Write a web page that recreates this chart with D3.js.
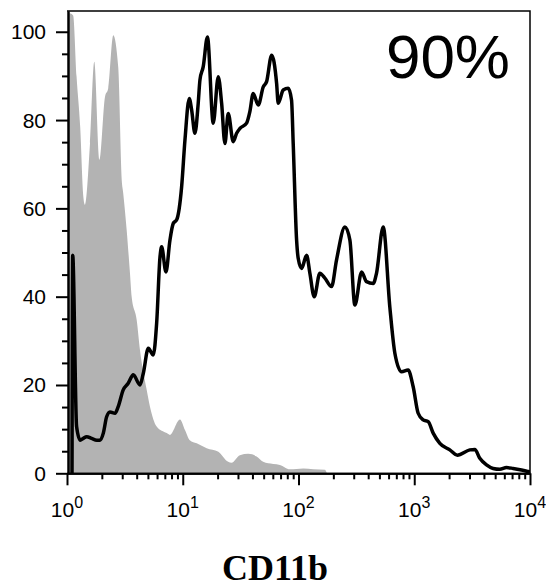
<!DOCTYPE html>
<html>
<head>
<meta charset="utf-8">
<script src="https://cdn.jsdelivr.net/npm/d3@7"></script>
<style>
  body { margin: 0; background: #fff; }
  svg { display: block; }
</style>
</head>
<body>
<div id="chart"></div>
<script>

//******************************************************************************
//**  Data
//******************************************************************************
/** CD11b histogram, x = fluorescence (log), y = % of max */

// isotype control (gray fill)
var controlX = [1.04, 1.05, 1.13, 1.21, 1.30, 1.38, 1.43, 1.58, 1.72, 1.90, 2.13, 2.27,
    2.51, 2.77, 2.97, 3.06, 3.28, 3.50, 3.62, 4.00, 4.27, 4.88, 5.21, 5.95, 7.26, 7.75,
    9.46, 10.45, 11.5, 13.2, 16.1, 20.3, 24.7, 26.4, 31.2, 36.8, 43.5, 49.5, 60.5, 69.1,
    84.3, 110, 134, 169, 176];
var controlY = [0, 104.2, 103.7, 89.8, 78.5, 63, 60.8, 74.7, 93.2, 71, 85.3, 87.2,
    99.2, 92, 66.4, 63.4, 55, 45.3, 40, 34.7, 27.9, 18.9, 15.1, 10.6, 9.1, 8.7,
    12.2, 9.8, 7.5, 6.8, 5.7, 4.9, 2.6, 2.4, 4.1, 4.4, 3.8, 2.6, 2.1, 1.9,
    0.9, 1.1, 0.9, 0.8, 0];

// stained sample (black line)
var sampleX = [1.105, 1.12, 1.21, 1.30, 1.38, 1.48, 1.63, 1.81, 1.93, 2.06, 2.20, 2.35,
    2.60, 2.77, 3.06, 3.38, 3.74, 4.27, 4.56, 5.04, 5.56, 5.95, 6.36, 6.57, 7.16, 7.75,
    8.28, 8.86, 9.78, 10.45, 11.38, 11.93, 12.74, 13.6, 14.08, 15.03, 16.34, 18.34,
    20.26, 21.67, 23.14, 24.7, 27.3, 29.2, 31.2, 35.6, 38.0, 40.6, 44.9, 49.6, 53.0,
    58.6, 64.7, 66.8, 73.8, 81.5, 87.1, 90.0, 96.3, 99.4, 106.4, 117.5, 125.4, 136.7,
    153, 169, 193, 213, 252, 278, 307, 351, 387, 442, 472, 539, 615, 680, 777, 885,
    979, 1081, 1194, 1319, 1457, 1664, 2029, 2356, 3020, 3337, 3684, 4209, 4800, 5486,
    6266, 7148, 8446, 9640, 10000];
var sampleY = [0, 49.4, 10.6, 7.5, 7.9, 8.3, 7.9, 7.5, 7.5, 9.1, 12.8, 13.9,
    13.6, 15.1, 18.9, 20.4, 22.3, 20.0, 22.6, 28.3, 26.8, 34.0, 49.0, 51.3, 45.6, 52.8,
    56.6, 57.4, 64.9, 75.5, 84.9, 82.3, 77, 83.8, 89.1, 92.1, 98.8, 79.3,
    89.8, 83.8, 74.7, 81.5, 75.1, 77, 78.1, 79.3, 81.9, 86, 83.4, 87.5, 88.7,
    94.7, 88.3, 83.8, 86.8, 87.2, 84.5, 74.7, 52.8, 48.7, 46.4, 49.4, 45.3, 40,
    45.3, 44.2, 42.3, 48.3, 55.8, 52.8, 38.1, 45.6, 43.4, 43, 45.3, 55.8, 37.7, 27.2, 23, 23.4,
    19.6, 13.6, 12.1, 11.7, 9.1, 6.8, 5.3, 4.1, 5.3, 5.4, 3.4, 1.9, 1.1, 0.9,
    1.3, 1.1, 0.75, 0.4, 0.3];

var xMajor = [1, 10, 100, 1000, 10000];
var xExponents = ["0", "1", "2", "3", "4"];
var yMajor = [0, 20, 40, 60, 80, 100];
var yMinor = [5, 10, 15, 25, 30, 35, 45, 50, 55, 65, 70, 75, 85, 90, 95];
var percentLabel = "90%";
var axisTitle = "CD11b";


//******************************************************************************
//**  Chart
//******************************************************************************
var width = 546, height = 584;
var plotLeft = 67, plotRight = 530, plotTop = 11, plotBottom = 473.3;

var svg = d3.select("#chart").append("svg")
    .attr("width", width)
    .attr("height", height);

var x = d3.scaleLog().domain([1, 10000]).range([plotLeft, plotRight]);
var y = d3.scaleLinear().domain([0, 104.7]).range([plotBottom, plotTop]);

//minor ticks on the log axis (2..9 of each decade)
var xMinor = [];
for (var d = 1; d < 10000; d *= 10){
    for (var k = 2; k < 10; k++) xMinor.push(d * k);
}

svg.append("clipPath").attr("id", "plotClip")
  .append("rect")
    .attr("x", plotLeft).attr("y", plotTop)
    .attr("width", plotRight - plotLeft).attr("height", plotBottom - plotTop);

var plot = svg.append("g").attr("clip-path", "url(#plotClip)");


  //**************************************************************************
  //** control histogram
  //**************************************************************************
    var control = controlX.map(function(v, i){ return [v, controlY[i]]; });
    var area = d3.area()
        .x(function(d){ return x(d[0]); })
        .y0(y(0))
        .y1(function(d){ return y(d[1]); })
        .curve(d3.curveMonotoneX);

    plot.append("path")
        .datum(control)
        .attr("d", area)
        .attr("fill", "#b3b3b3");


  //**************************************************************************
  //** sample histogram
  //**************************************************************************
    var sample = sampleX.map(function(v, i){ return [v, sampleY[i]]; });
    var line = d3.line()
        .x(function(d){ return x(d[0]); })
        .y(function(d){ return y(d[1]); })
        .curve(d3.curveMonotoneX);

    plot.append("path")
        .datum(sample)
        .attr("d", line)
        .attr("fill", "none")
        .attr("stroke", "#000")
        .attr("stroke-width", 3.5)
        .attr("stroke-linejoin", "round");


  //**************************************************************************
  //** frame + axes
  //**************************************************************************
    svg.append("path")
        .attr("d", "M" + plotLeft + "," + plotTop + "H" + plotRight + "V" + plotBottom)
        .attr("fill", "none")
        .attr("stroke", "#000")
        .attr("stroke-width", 1.5);

    var styleAxis = function(g){
        g.select(".domain").attr("stroke", "#000").attr("stroke-width", 2);
        g.selectAll(".tick line").attr("stroke", "#000").attr("stroke-width", 2);
        g.selectAll(".tick text").remove();
    };

    svg.append("g")
        .attr("transform", "translate(0," + plotBottom + ")")
        .call(d3.axisBottom(x).tickValues(xMinor).tickSize(6).tickSizeOuter(0).tickFormat(""))
        .call(styleAxis);

    svg.append("g")
        .attr("transform", "translate(0," + plotBottom + ")")
        .call(d3.axisBottom(x).tickValues(xMajor).tickSize(12).tickSizeOuter(0).tickFormat(""))
        .call(styleAxis);

    svg.append("g")
        .attr("transform", "translate(" + (plotLeft + 1) + ",0)")
        .call(d3.axisLeft(y).tickValues(yMinor).tickSize(6).tickSizeOuter(0).tickFormat(""))
        .call(styleAxis);

    svg.append("g")
        .attr("transform", "translate(" + (plotLeft + 1) + ",0)")
        .call(d3.axisLeft(y).tickValues(yMajor).tickSize(12).tickSizeOuter(0).tickFormat(""))
        .call(styleAxis);

    //y labels
    svg.append("g").selectAll("text")
        .data(yMajor)
        .enter().append("text")
        .attr("x", 46)
        .attr("y", function(d){ return y(d) + 7.5; })
        .attr("text-anchor", "end")
        .attr("font-family", "Liberation Sans, Arial, sans-serif")
        .attr("font-size", 21)
        .text(function(d){ return d; });

    //x labels, 10 with superscript
    var xl = svg.append("g").selectAll("text")
        .data(xMajor)
        .enter().append("text")
        .attr("x", function(d){ return x(d); })
        .attr("y", 517)
        .attr("text-anchor", "middle")
        .attr("font-family", "Liberation Sans, Arial, sans-serif")
        .attr("font-size", 21);
    xl.append("tspan").text("10");
    xl.append("tspan")
        .attr("dy", -9)
        .attr("font-size", 16)
        .text(function(d, i){ return xExponents[i]; });


  //**************************************************************************
  //** text
  //**************************************************************************
    svg.append("text")
        .attr("x", 510)
        .attr("y", 78)
        .attr("text-anchor", "end")
        .attr("font-family", "Liberation Sans, Arial, sans-serif")
        .attr("font-size", 62)
        .text(percentLabel);

    svg.append("text")
        .attr("x", 275)
        .attr("y", 580)
        .attr("text-anchor", "middle")
        .attr("font-family", "Liberation Serif, Times New Roman, serif")
        .attr("font-weight", "bold")
        .attr("font-size", 36)
        .text(axisTitle);

</script>
</body>
</html>
